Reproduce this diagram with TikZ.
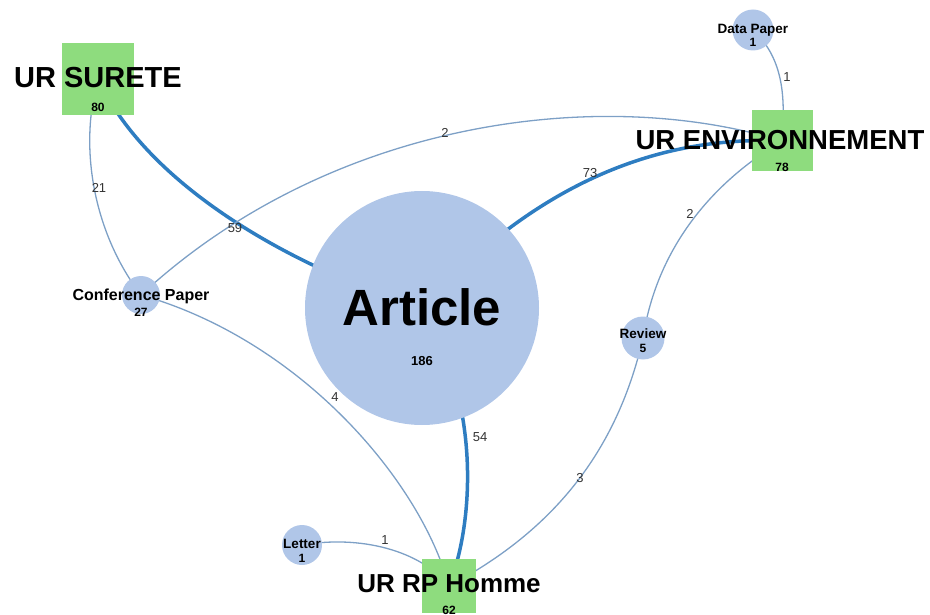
\documentclass[tikz,border=0pt]{standalone}
\usepackage{fontspec}
\setmainfont{Liberation Sans}
\definecolor{sqgreen}{RGB}{142,220,126}
\definecolor{cblue}{RGB}{176,198,232}
\definecolor{thickblue}{RGB}{46,125,193}
\definecolor{thinblue}{RGB}{125,160,198}
\pgfdeclarelayer{bg}
\pgfsetlayers{bg,main}
\begin{document}
\begin{tikzpicture}[x=1pt,y=-1pt,
  sq/.style={rectangle,fill=sqgreen,minimum size=#1,inner sep=0pt},
  cir/.style={circle,fill=cblue,minimum size=#1,inner sep=0pt},
  big/.style={font=\fontsize{#1}{#1}\selectfont\bfseries,inner sep=0pt,anchor=base},
  num/.style={font=\fontsize{#1}{#1}\selectfont\bfseries,inner sep=0pt,anchor=base},
  elab/.style={font=\fontsize{13}{13}\selectfont,text=black!80,inner sep=0pt},
  thickedge/.style={draw=thickblue,line width=3.5pt},
  thinedge/.style={draw=thinblue,line width=1.3pt}]
\useasboundingbox (0,0) rectangle (930,615);

% shapes
\node[sq=72pt] (s) at (98,79) {};
\node[sq=61pt] (e) at (782,141) {};
\node[sq=54pt] (h) at (449,586) {};
\node[cir=234pt] (art) at (422,308) {};
\node[cir=38pt] (conf) at (141,295) {};
\node[cir=43pt] (rev) at (643,338) {};
\node[cir=41pt] (data) at (753,30) {};
\node[cir=40pt] (let) at (302,545) {};

% edges
\begin{pgfonlayer}{bg}
\draw[thickedge] (s.center) .. controls (150,190) and (300,270) .. (art.center);
\draw[thickedge] (art.center) .. controls (530,190) and (650,135) .. (e.center);
\draw[thickedge] (art.center) .. controls (480,400) and (475,520) .. (h.center);
\draw[thinedge] (s.center) .. controls (78,150) and (95,235) .. (conf.center);
\draw[thinedge] (conf.center) .. controls (330,120) and (600,85) .. (e.center);
\draw[thinedge] (conf.center) .. controls (300,340) and (420,480) .. (h.center);
\draw[thinedge] (e.center) .. controls (700,190) and (655,260) .. (rev.center);
\draw[thinedge] (rev.center) .. controls (615,460) and (545,535) .. (h.center);
\draw[thinedge] (data.center) .. controls (785,60) and (785,100) .. (e.center);
\draw[thinedge] (let.center) .. controls (360,535) and (420,550) .. (h.center);
\end{pgfonlayer}

% edge labels
\node[elab] (l59) at (235,228) {59};
\node[elab] (l73) at (590,173) {73};
\node[elab] (l54) at (480,437) {54};
\node[elab] (l21) at (99,188) {21};
\node[elab] (l2a) at (445,133) {2};
\node[elab] (l4) at (335,397) {4};
\node[elab] (l2b) at (690,214) {2};
\node[elab] (l3) at (580,478) {3};
\node[elab] (l1a) at (787,77) {1};
\node[elab] (l1b) at (385,540) {1};

% node labels
\node[big=29] (st) at (98,88) {UR SURETE};
\node[num=12] (sn) at (98,112) {80};
\node[big=27.5] (et) at (780,150) {UR ENVIRONNEMENT};
\node[num=12] (en) at (782,172) {78};
\node[big=26] (ht) at (449,592) {UR RP Homme};
\node[num=12] (hn) at (449,614) {62};
\node[big=51] (at) at (422,325) {Article};
\node[num=13] (an) at (422,365) {186};
\node[big=16] (ct) at (141,300) {Conference Paper};
\node[num=12] (cn) at (141,316) {27};
\node[big=13.5] (dt) at (753,34) {Data Paper};
\node[num=12] (dn) at (753,47) {1};
\node[big=13.5] (rt) at (643,338) {Review};
\node[num=12] (rn) at (643,352) {5};
\node[big=13.5] (lt) at (302,548) {Letter};
\node[num=12] (ln) at (302,562) {1};
\end{tikzpicture}
\end{document}
